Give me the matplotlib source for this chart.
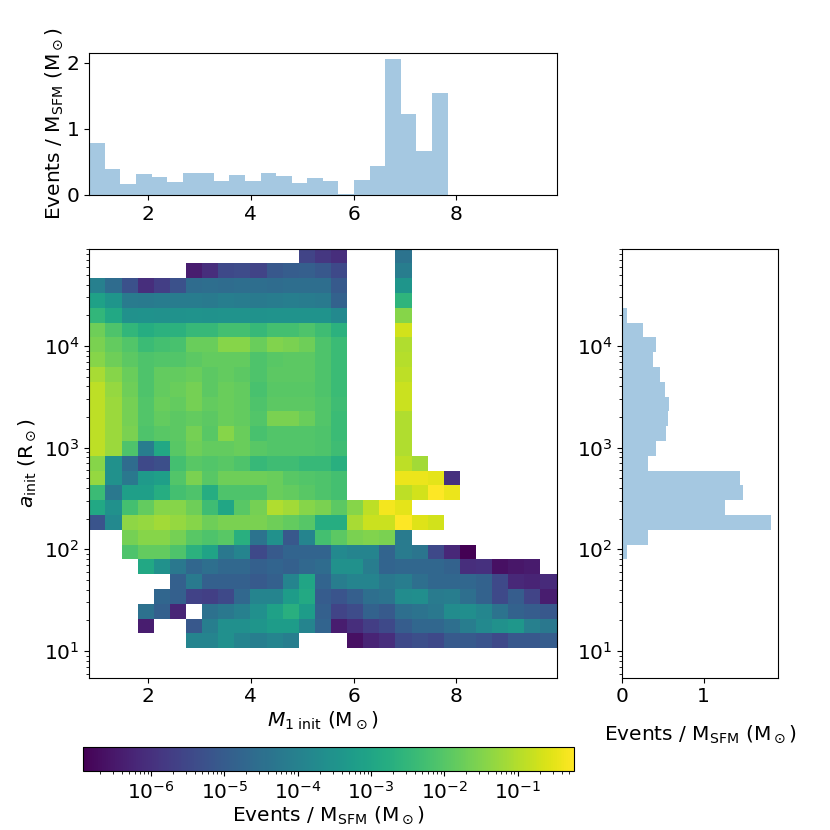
import numpy as np
import matplotlib
matplotlib.use('Agg')
import matplotlib.pyplot as plt
from matplotlib.colors import LogNorm

plt.rcParams['font.size'] = 14.5

# ranges of the data: M1 init (Msun) and log10 a_init (Rsun)
m1_lo, m1_hi = 0.863, 9.946
loga_lo, loga_hi = 0.737, 4.957
n_top = 30    # bins of the top histogram
n_grid = 29   # bins of the 2d histogram and of the right histogram
c_min, c_max = 1.17e-7, 0.586

# top histogram: events per M_SFM in each M1 bin
top_counts = [0.78, 0.39, 0.166, 0.317, 0.27, 0.196, 0.33, 0.33, 0.21, 0.30,
              0.206, 0.33, 0.286, 0.18, 0.25, 0.206, 0.015, 0.22, 0.437, 2.05,
              1.22, 0.66, 1.55, 0, 0, 0, 0, 0, 0, 0]

# right histogram, from the widest separation down
right_counts = [0, 0, 0, 0.004, 0.053, 0.25, 0.42, 0.38, 0.465, 0.52,
                0.576, 0.56, 0.54, 0.42, 0.32, 1.45, 1.49, 1.26, 1.83, 0.31,
                0.053, 0.003, 0.003, 0.003, 0.003, 0.002, 0, 0, 0]

# 2d histogram, log10(events / M_SFM), rows from the top of the plot down
_ = None
grid_log10 = [
    [_]*13 + [-5.59, -5.86, -6.06] + [_]*3 + [-4.38] + [_]*9,
    [_]*6 + [-6.39, -6.06, -5.46, -5.39, -5.59, -5.12, -4.99, -4.92, -5.12, -5.46] + [_]*3 + [-4.12] + [_]*9,
    [-4.05, -4.59, -5.26, -6.06, -5.72, -5.26, -4.59, -4.55, -4.6, -4.55, -4.55, -4.6, -4.55, -4.55, -4.55, -5.05] + [_]*3 + [-3.45] + [_]*9,
    [-3.11, -3.45, -4.18, -4.2, -4.15, -4.15, -4.15, -4.2, -4.1, -4.15, -4.2, -4.15, -4.1, -4.15, -4.2, -4.85] + [_]*3 + [-2.58] + [_]*9,
    [-2.51, -2.91, -3.58, -3.55, -3.58, -3.55, -3.5, -3.55, -3.5, -3.5, -3.55, -3.5, -3.5, -3.5, -3.5, -3.78] + [_]*3 + [-1.44] + [_]*9,
    [-1.7, -2.11, -2.51, -2.78, -2.64, -2.64, -2.44, -2.44, -2.24, -2.24, -2.44, -2.24, -2.24, -2.11, -2.31, -2.64] + [_]*3 + [-0.7] + [_]*9,
    [-1.57, -1.84, -2.04, -2.37, -2.24, -2.17, -1.77, -1.77, -1.44, -1.44, -1.77, -1.5, -1.57, -1.7, -2.11, -2.37] + [_]*3 + [-1.03] + [_]*9,
    [-1.44, -1.7, -1.91, -2.11, -2.04, -2.04, -1.91, -1.84, -1.84, -1.84, -2.11, -1.97, -1.91, -1.91, -2.11, -2.37] + [_]*3 + [-0.97] + [_]*9,
    [-1.1, -1.44, -1.77, -2.11, -1.84, -1.84, -1.77, -1.91, -1.84, -1.91, -2.11, -1.91, -1.91, -1.91, -2.11, -2.37] + [_]*3 + [-0.9] + [_]*9,
    [-0.9, -1.3, -1.7, -2.11, -1.84, -1.77, -1.64, -1.91, -1.77, -1.84, -2.17, -1.97, -1.97, -1.97, -2.11, -2.37] + [_]*3 + [-0.77] + [_]*9,
    [-0.9, -1.24, -1.64, -2.04, -1.77, -1.84, -1.64, -1.84, -1.77, -1.84, -2.11, -1.91, -1.91, -1.91, -2.04, -2.31] + [_]*3 + [-0.77] + [_]*9,
    [-0.9, -1.24, -1.64, -2.04, -1.84, -1.91, -1.84, -1.91, -1.77, -1.84, -2.04, -1.57, -1.57, -1.77, -2.04, -2.37] + [_]*3 + [-1.03] + [_]*9,
    [-0.9, -1.24, -1.57, -2.11, -1.97, -1.91, -1.64, -1.97, -1.44, -1.77, -2.17, -2.04, -2.04, -2.04, -2.11, -2.37] + [_]*3 + [-1.03] + [_]*9,
    [-0.9, -1.24, -2.11, -4.12, -2.91, -1.97, -1.7, -1.84, -1.84, -1.77, -1.97, -2.04, -2.04, -2.04, -2.11, -2.31] + [_]*3 + [-1.03] + [_]*9,
    [-1.44, -3.58, -4.59, -5.46, -5.32, -2.24, -1.97, -2.04, -1.97, -2.11, -2.44, -2.31, -2.31, -2.44, -2.44, -2.71] + [_]*3 + [-0.9, -1.17] + [_]*8,
    [-1.3, -3.58, -4.25, -3.31, -3.18, -2.04, -1.57, -1.97, -1.7, -1.7, -1.7, -1.77, -1.97, -2.04, -2.11, -2.24] + [_]*3 + [-0.43, -0.43, -0.5, -5.99] + [_]*6,
    [-2.37, -4.25, -3.18, -3.18, -2.78, -2.24, -2.11, -2.78, -2.11, -2.11, -2.11, -1.77, -1.84, -1.97, -2.11, -2.24] + [_]*3 + [-0.9, -0.7, -0.23, -0.43] + [_]*6,
    [-2.91, -3.58, -2.24, -1.84, -1.44, -1.44, -1.7, -2.31, -2.98, -1.97, -1.64, -1.03, -1.17, -1.44, -1.57, -1.91, -1.44, -0.9, -0.36, -0.5] + [_]*9,
    [-5.19, -3.78, -1.37, -1.3, -1.17, -1.3, -1.44, -1.7, -1.57, -1.57, -1.57, -1.7, -1.84, -2.0, -2.78, -2.78, -1.1, -0.77, -0.77, -0.23, -0.57, -0.7] + [_]*7,
    [_, _, -1.64, -1.44, -1.44, -1.64, -1.97, -2.11, -1.97, -2.71, -4.38, -3.58, -5.12, -3.92, -2.24, -1.91, -1.57, -1.5, -1.57, -4.18] + [_]*9,
    [_, _, -2.11, -1.84, -1.84, -2.11, -2.64, -3.04, -4.25, -3.92, -5.46, -5.05, -4.79, -4.79, -4.79, -3.78, -3.92, -3.92, -4.79, -4.18, -4.32, -5.46, -6.19, -6.93] + [_]*5,
    [_, _, _, -2.91, -3.58, -4.25, -4.72, -4.5, -4.7, -4.7, -4.9, -4.8, -4.9, -4.7, -4.6, -3.58, -3.58, -4.12, -4.79, -4.72, -4.72, -4.72, -4.85, -6.06, -6.0, -6.66, -6.53, -6.45, _],
    [_]*5 + [-4.9, -4.2, -4.9, -4.9, -4.9, -5.05, -4.9, -3.9, -3.0, -4.8, -4.12, -3.92, -3.92, -4.25, -4.12, -4.52, -4.72, -4.72, -4.72, -4.85, -5.46, -6.19, -6.26, -6.13],
    [_]*4 + [-4.75, -4.9, -5.6, -5.7, -5.45, -4.7, -3.9, -3.9, -3.25, -2.9, -5.0, -5.19, -4.92, -4.52, -4.38, -3.71, -3.65, -4.18, -4.12, -4.52, -4.85, -5.46, -4.99, -5.59, -6.39],
    [_]*3 + [-4.45, -4.9, -6.25, _, -4.45, -4.25, -4.05, -3.6, -3.1, -2.7, -3.25, -4.9, -5.59, -5.39, -4.85, -5.05, -4.52, -4.38, -4.25, -3.71, -3.65, -3.85, -4.38, -4.85, -4.99, -5.12],
    [_, _, _, -6.4, _, _, -5.1, -4.1, -3.6, -3.6, -3.45, -3.25, -3.25, -3.9, -4.8, -6.39, -6.06, -5.72, -5.46, -4.99, -4.72, -4.72, -4.52, -4.12, -3.78, -3.58, -3.38, -4.05, -4.25],
    [_]*6 + [-3.9, -3.9, -3.6, -3.9, -4.1, -3.9, -4.1] + [_]*3 + [-6.66, -6.26, -6.06, -5.46, -5.32, -5.46, -5.05, -5.05, -5.19, -5.46, -5.12, -5.12, -4.99],
    [_]*29,
    [_]*29,
]

ev_label = r'Events / M$_{\rm SFM}$ (M$_\odot$)'

x_edges_top = np.linspace(m1_lo, m1_hi, n_top + 1)
x_edges = np.linspace(m1_lo, m1_hi, n_grid + 1)
y_edges = 10 ** np.linspace(loga_lo, loga_hi, n_grid + 1)
grid = np.ma.masked_invalid(10 ** np.array(grid_log10[::-1], dtype=float))
right = np.array(right_counts[::-1])

fig = plt.figure(figsize=(8.3, 8.3), dpi=100)
ax_top = fig.add_axes([0.1076, 0.7651, 0.5629, 0.1714])
ax = fig.add_axes([0.1076, 0.1835, 0.5629, 0.5169])
ax_r = fig.add_axes([0.7498, 0.1835, 0.1880, 0.5169])
cax = fig.add_axes([0.0996, 0.0711, 0.5919, 0.0293])

# top marginal
ax_top.hist(x_edges_top[:-1], bins=x_edges_top, weights=top_counts, alpha=0.4)
ax_top.set_xlim(m1_lo, m1_hi)
ax_top.set_xticks([2, 4, 6, 8])
ax_top.set_yticks([0, 1, 2])
ax_top.set_ylabel(ev_label, labelpad=1)

# 2d histogram
mesh = ax.pcolormesh(x_edges, y_edges, grid, cmap='viridis',
                     norm=LogNorm(vmin=c_min, vmax=c_max))
ax.set_yscale('log')
ax.set_xlim(m1_lo, m1_hi)
ax.set_ylim(y_edges[0], y_edges[-1])
ax.set_xticks([2, 4, 6, 8])
ax.set_xlabel(r'$M_{1\ \rm init}$ (M$_\odot$)', labelpad=2)
ax.set_ylabel(r'$a_{\rm init}$ (R$_\odot$)')

# right marginal
y_mid = np.sqrt(y_edges[:-1] * y_edges[1:])
ax_r.hist(y_mid, bins=y_edges, weights=right, orientation='horizontal', alpha=0.4)
ax_r.set_yscale('log')
ax_r.set_ylim(y_edges[0], y_edges[-1])
ax_r.set_xticks([0, 1])
ax_r.set_xlabel(ev_label, labelpad=12)

cb = fig.colorbar(mesh, cax=cax, orientation='horizontal')
cb.set_label(ev_label, labelpad=1)

fig.savefig('out.png', dpi=100)
